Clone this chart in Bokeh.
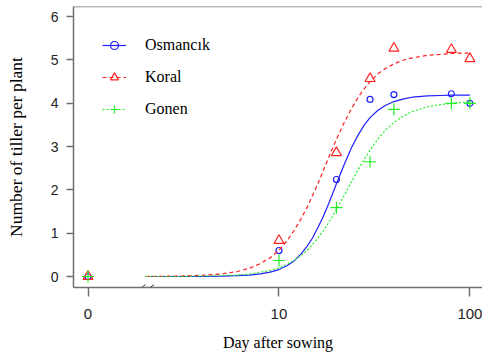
from bokeh.plotting import figure
from bokeh.models import FixedTicker, Legend, LegendItem, Span, Range1d
from bokeh.embed import file_html
from bokeh.resources import INLINE

# Observed data (day 0 is drawn at the axis position labelled "0")
obs_day = [0, 10, 20, 30, 40, 80, 100]
osmancik_obs = [0.0, 0.60, 2.24, 4.09, 4.20, 4.22, 4.00]
koral_obs = [0.0, 0.83, 2.86, 4.57, 5.27, 5.24, 5.03]
gonen_obs = [0.0, 0.37, 1.59, 2.65, 3.86, 4.00, 4.00]

# Fitted curves
curve_day = [2, 3, 4, 5, 6, 7, 8, 9, 10, 11, 12, 13, 14, 15, 16, 17, 18, 19, 20,
             22, 24, 26, 28, 30, 33, 36, 40, 45, 50, 60, 70, 80, 90, 100]
osmancik_fit = [0.00, 0.00, 0.00, 0.01, 0.02, 0.03, 0.06, 0.10, 0.16, 0.25, 0.36, 0.51,
                0.69, 0.89, 1.13, 1.37, 1.63, 1.89, 2.14, 2.59, 2.98, 3.27, 3.50, 3.67,
                3.84, 3.95, 4.04, 4.10, 4.14, 4.17, 4.18, 4.19, 4.19, 4.19]
koral_fit = [0.00, 0.01, 0.03, 0.06, 0.11, 0.19, 0.30, 0.43, 0.61, 0.82, 1.06, 1.32,
             1.59, 1.87, 2.15, 2.43, 2.69, 2.94, 3.17, 3.56, 3.88, 4.14, 4.34, 4.50,
             4.68, 4.80, 4.91, 5.00, 5.05, 5.11, 5.13, 5.15, 5.16, 5.16]
gonen_fit = [0.00, 0.00, 0.01, 0.02, 0.03, 0.06, 0.10, 0.14, 0.20, 0.28, 0.37, 0.48,
             0.60, 0.74, 0.89, 1.04, 1.21, 1.38, 1.55, 1.88, 2.19, 2.47, 2.71, 2.92,
             3.18, 3.37, 3.56, 3.71, 3.81, 3.92, 3.97, 4.00, 4.02, 4.03]

x_ticks = [1, 10, 100]
x_tick_labels = ["0", "10", "100"]
y_ticks = [0, 1, 2, 3, 4, 5, 6]

# position of day "0" on the log axis
obs_x = [1 if d == 0 else d for d in obs_day]

AX = "#707070"
TXT = "#222222"

p = figure(width=482, height=358, x_axis_type="log",
           x_range=Range1d(10 ** -0.076, 10 ** 2.066),
           y_range=Range1d(-0.254, 6.235),
           output_backend="svg", toolbar_location=None,
           min_border_left=73, min_border_right=0, min_border_top=6, min_border_bottom=71)
p.outline_line_color = None
p.xgrid.visible = False
p.ygrid.visible = False
p.background_fill_color = "white"
p.border_fill_color = "white"

p.add_layout(Span(location=6.235, dimension="width", line_color=AX, line_width=1.5))

series = [
    ("Osmancık", osmancik_obs, osmancik_fit, "#1f1fff", "solid", "circle", 6),
    ("Koral", koral_obs, koral_fit, "#ff2020", "4 3", "triangle", 10),
    ("Gonen", gonen_obs, gonen_fit, "#22ee22", "2 2", "cross", 12),
]
items = []
for name, obs, fit, col, dash, marker, size in series:
    lr = p.line(curve_day, fit, line_color=col, line_width=1.2, line_dash=dash)
    sr = p.scatter(obs_x, obs, marker=marker, size=size, line_color=col,
                   fill_color=None, line_width=1.2)
    items.append(LegendItem(label=name, renderers=[lr, sr]))

# axis break marks
brk_x0 = [1.83, 2.03]
brk_x1 = [2.00, 2.22]
p.segment(brk_x0, [-0.307, -0.307], brk_x1, [-0.19, -0.19], line_color="#333333", line_width=1)

legend = Legend(items=items, location="top_left", border_line_color=None,
                background_fill_alpha=0, margin=29, padding=10, spacing=12,
                glyph_width=24, glyph_height=20, label_standoff=19,
                label_text_font="Liberation Serif", label_text_font_size="16px",
                label_text_color="black")
p.add_layout(legend)

for ax in (p.xaxis[0], p.yaxis[0]):
    ax.axis_line_color = AX
    ax.axis_line_width = 1.5
    ax.major_tick_line_color = AX
    ax.major_tick_line_width = 1.5
    ax.minor_tick_line_color = None
    ax.major_tick_in = 0
    ax.major_label_text_font = "Liberation Sans"
    ax.major_label_text_color = TXT
    ax.axis_label_text_font = "Liberation Serif"
    ax.axis_label_text_font_style = "normal"
    ax.axis_label_text_color = "black"

p.xaxis.ticker = FixedTicker(ticks=x_ticks)
p.xaxis.major_label_overrides = {t: s for t, s in zip(x_ticks, x_tick_labels)}
p.xaxis.major_tick_out = 9
p.xaxis.major_label_standoff = 12
p.xaxis.major_label_text_font_size = "15px"
p.xaxis.axis_label = "Day after sowing"
p.xaxis.axis_label_text_font_size = "16px"
p.xaxis.axis_label_standoff = 12

p.yaxis.ticker = FixedTicker(ticks=y_ticks)
p.yaxis.major_tick_out = 7
p.yaxis.major_label_standoff = 8
p.yaxis.major_label_text_font_size = "14px"
p.yaxis.axis_label = "Number of tiller per plant"
p.yaxis.axis_label_text_font_size = "17.5px"
p.yaxis.axis_label_standoff = 22

open("out.html", "w").write(file_html(p, INLINE))
